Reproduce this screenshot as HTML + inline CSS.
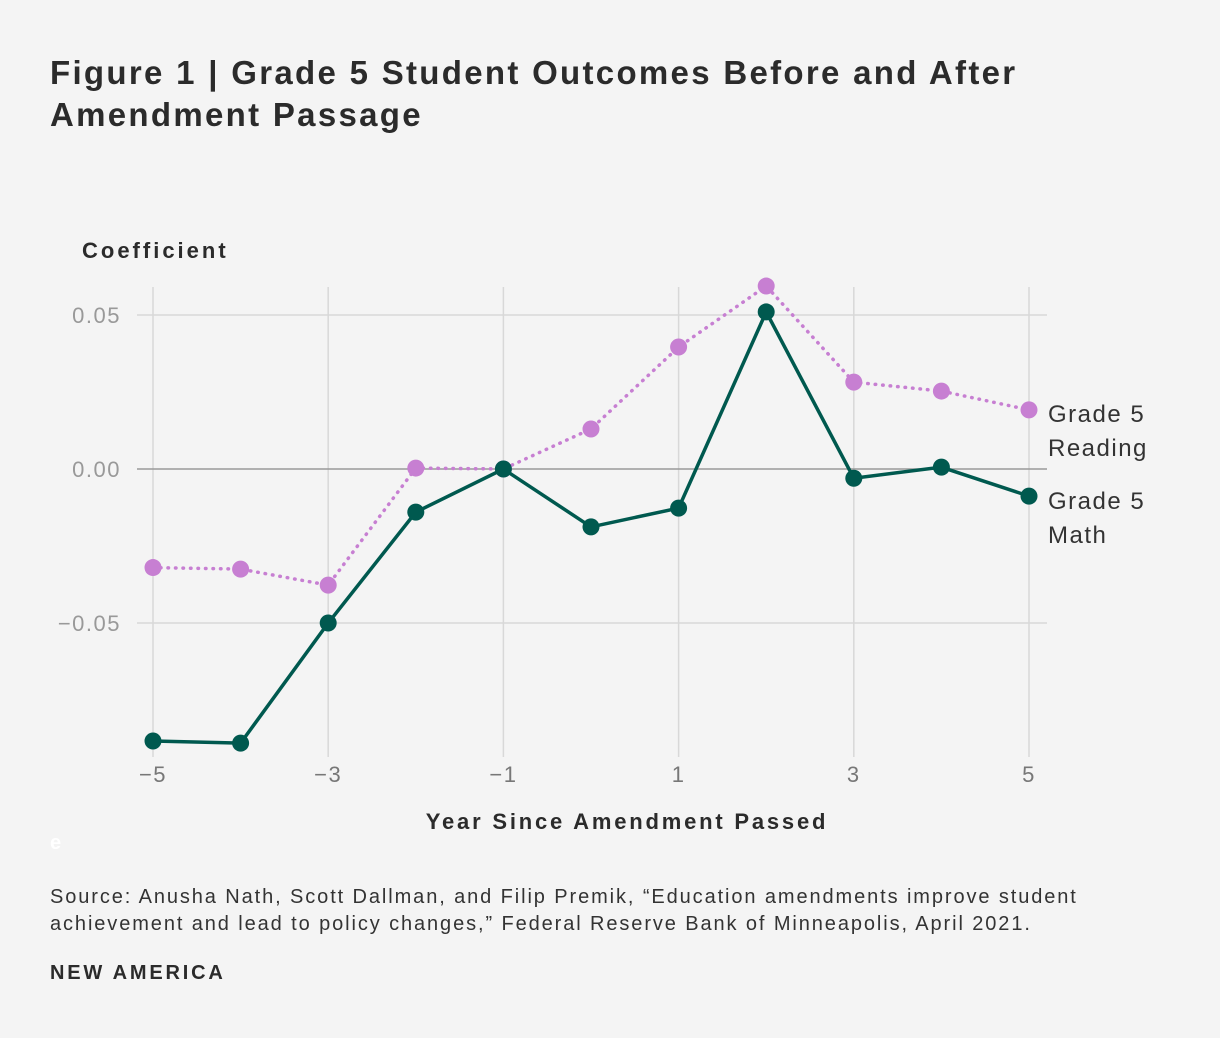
<!DOCTYPE html>
<html><head><meta charset="utf-8"><style>
html,body{margin:0;padding:0;background:#f4f4f4;}
body{width:1220px;height:1038px;position:relative;font-family:"Liberation Sans",sans-serif;color:#333;overflow:hidden;}
.t{position:absolute;margin:0;}
</style></head><body>
<h1 class="t" style="left:50px;top:52px;font-size:33px;line-height:42px;font-weight:bold;color:#2b2b2b;letter-spacing:2.3px;">Figure 1 | Grade 5 Student Outcomes Before and After<br>Amendment Passage</h1>
<svg id="chart" width="1220" height="1038" style="position:absolute;left:0;top:0" xmlns="http://www.w3.org/2000/svg"></svg>
<div class="t" style="left:50px;top:884px;font-size:20px;line-height:27px;color:#333;letter-spacing:1.9px;">Source: Anusha Nath, Scott Dallman, and Filip Premik, “Education amendments improve student<br>achievement and lead to policy changes,” Federal Reserve Bank of Minneapolis, April 2021.</div>
<div class="t" style="left:50px;top:962px;font-size:20px;font-weight:bold;color:#2b2b2b;letter-spacing:2.8px;">NEW AMERICA</div>
<div class="t" style="left:50px;top:832px;font-size:20px;font-weight:bold;color:#fff;">e</div>
<script>
const years=[-5,-4,-3,-2,-1,0,1,2,3,4,5];
const mathVals=[-0.0883,-0.089,-0.05,-0.014,0,-0.0188,-0.0127,0.051,-0.003,0.0006,-0.0088];
const readingVals=[-0.032,-0.0325,-0.0377,0.0003,0,0.013,0.0396,0.0594,0.0282,0.0253,0.0192];
const xTicks=[-5,-3,-1,1,3,5];
const xTickLabels=["−5","−3","−1","1","3","5"];
const yTicks=[0.05,0,-0.05];
const yTickLabels=["0.05","0.00","−0.05"];
const svg=document.getElementById('chart');
const NS='http://www.w3.org/2000/svg';
const x=v=>153+(v+5)*87.6;
const y=v=>469-v*3080;
const FF='Liberation Sans, sans-serif';
function mk(tag,attrs,txt){const e=document.createElementNS(NS,tag);for(const k in attrs)e.setAttribute(k,attrs[k]);if(txt!==undefined)e.textContent=txt;svg.appendChild(e);return e;}
xTicks.forEach((t,i)=>{
 const l=mk('line',{x1:x(t),x2:x(t),y1:287,y2:757,stroke:'#d8d8d8','stroke-width':1.5});
 
 
 const tx=mk('text',{x:x(t),y:782,'text-anchor':'middle','font-size':22,'letter-spacing':1.5,fill:'#777','font-family':FF},xTickLabels[i]);
 
 
});
yTicks.forEach((t,i)=>{
 const l=mk('line',{x1:137,x2:1047,y1:y(t),y2:y(t),stroke:t===0?'#999':'#d8d8d8','stroke-width':1.5});
 
 
 const tx=mk('text',{x:121,y:y(t)+8,'text-anchor':'end','font-size':22,'letter-spacing':1.5,fill:'#999','font-family':FF},yTickLabels[i]);
 
 
});
let yt=mk('text',{x:82,y:258,'font-size':22,'font-weight':'bold','letter-spacing':3,fill:'#2b2b2b','font-family':FF},'Coefficient');


let xt=mk('text',{x:627,y:829,'text-anchor':'middle','font-size':22,'font-weight':'bold','letter-spacing':2.8,fill:'#2b2b2b','font-family':FF},'Year Since Amendment Passed');


function series(vals,color,dash,name){
 const p=mk('polyline',{points:years.map((d,i)=>x(d)+','+y(vals[i])).join(' '),fill:'none',stroke:color,'stroke-width':3.5,'stroke-dasharray':dash,'stroke-linecap':dash?'round':'butt'});
 
 
 years.forEach((d,i)=>{
  const c=mk('circle',{cx:x(d),cy:y(vals[i]),r:8.5,fill:color});
  
  
 });
}
series(readingVals,'#c77fd2','0.5 7','reading');
series(mathVals,'#00594f','','math');
function label(lines,yy,name){
 lines.forEach((s,i)=>{
  const t=mk('text',{x:1048,y:yy+i*34,'font-size':24,'letter-spacing':1.5,fill:'#333','font-family':FF},s);
  
  
 });
}
label(['Grade 5','Reading'],422,'reading-series-label');
label(['Grade 5','Math'],509,'math-series-label');
</script>
</body></html>
